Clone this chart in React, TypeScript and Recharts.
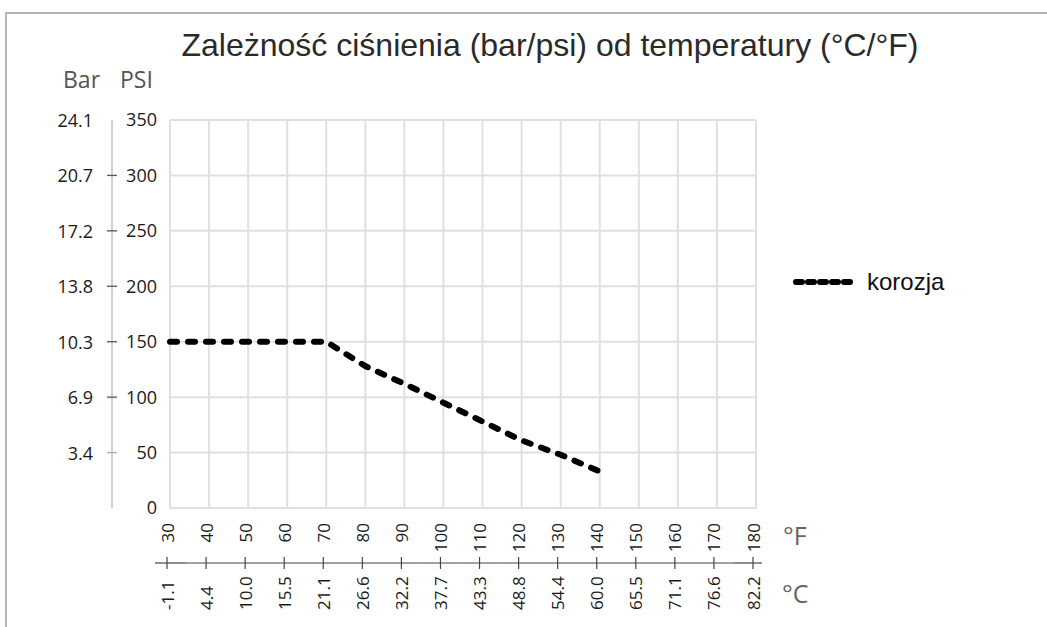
import React from 'react';
import { LineChart, Line, XAxis, YAxis, CartesianGrid, Legend } from 'recharts';

const titleText = 'Zależność ciśnienia (bar/psi) od temperatury (°C/°F)';
const fahrenheitTicks = [30, 40, 50, 60, 70, 80, 90, 100, 110, 120, 130, 140, 150, 160, 170, 180];
const celsiusLabels = ['-1.1', '4.4', '10.0', '15.5', '21.1', '26.6', '32.2', '37.7', '43.3', '48.8', '54.4', '60.0', '65.5', '71.1', '76.6', '82.2'];
const psiTicks = [0, 50, 100, 150, 200, 250, 300, 350];
const barLabels = ['', '3.4', '6.9', '10.3', '13.8', '17.2', '20.7', '24.1'];
const tempF = [30, 40, 50, 60, 70, 80, 90, 100, 110, 120, 130, 140];
const korozjaPsi = [150, 150, 150, 150, 150, 128, 112, 95, 78, 61, 48, 33];
const seriesName = 'korozja';

const data = tempF.map((f, i) => ({ f, korozja: korozjaPsi[i] }));

const W = 1040;
const H = 613;
const tickFont = "'Open Sans', 'DejaVu Sans', sans-serif";

const FTick = (props: any) => {
  const { x, y, payload } = props;
  const cx = x - 3;
  const ty = y + 15;
  return (
    <text
      x={cx}
      y={ty}
      transform={`rotate(-90, ${cx}, ${ty})`}
      textAnchor="end"
      dominantBaseline="central"
      fontSize={17}
      fontFamily={tickFont}
      fill="#1a1a1a"
    >
      {payload.value}
    </text>
  );
};

const CTick = (props: any) => {
  const { x, y, payload } = props;
  const cx = x - 3;
  const idx = fahrenheitTicks.indexOf(payload.value);
  const isFirst = idx === 0;
  const isLast = idx === fahrenheitTicks.length - 1;
  const left = isFirst ? cx - 12 : cx - 19.6;
  const right = isLast ? cx + 9 : cx + 19.6;
  const ly = y + 47;
  return (
    <g>
      <line x1={left} x2={right} y1={y} y2={y} stroke="#444" strokeWidth={1.2} />
      <line x1={cx} x2={cx} y1={y - 6} y2={y + 6} stroke="#444" strokeWidth={1.2} />
      <text
        x={cx}
        y={ly}
        transform={`rotate(-90, ${cx}, ${ly})`}
        textAnchor="start"
        dominantBaseline="central"
        fontSize={17}
        fontFamily={tickFont}
        fill="#1a1a1a"
      >
        {idx >= 0 ? celsiusLabels[idx] : ''}
      </text>
    </g>
  );
};

const BarTick = (props: any) => {
  const { x, y, payload } = props;
  const idx = psiTicks.indexOf(payload.value);
  const label = idx >= 0 ? barLabels[idx] : '';
  const showTick = payload.value > 0 && payload.value < 350;
  return (
    <g>
      {showTick && (
        <line
          x1={x - 5}
          x2={x + 5}
          y1={y}
          y2={y}
          stroke={payload.value === 50 ? '#aaa' : '#555'}
          strokeWidth={1.3}
        />
      )}
      <text
        x={x - 19}
        y={y}
        textAnchor="end"
        dominantBaseline="central"
        fontSize={18}
        fontFamily={tickFont}
        fill="#1a1a1a"
      >
        {label}
      </text>
    </g>
  );
};

const LegendContent = () => (
  <div style={{ display: 'flex', alignItems: 'center', height: 26 }}>
    <svg width={62} height={12}>
      <line
        x1={3}
        x2={59}
        y1={6}
        y2={6}
        stroke="#000"
        strokeWidth={6}
        strokeDasharray="6 6"
        strokeLinecap="round"
      />
    </svg>
    <span
      style={{
        marginLeft: 12,
        fontFamily: "'Liberation Sans', Arial, sans-serif",
        fontSize: 24,
        color: '#111',
        lineHeight: '26px',
      }}
    >
      {seriesName}
    </span>
  </div>
);

export default function App() {
  return (
    <div
      style={{
        position: 'absolute',
        left: 5,
        top: 12,
        width: 1042,
        height: 615,
        boxSizing: 'border-box',
        borderTop: '2px solid #b4b4b4',
        borderLeft: '2px solid #b4b4b4',
        background: '#fff',
        overflow: 'hidden',
      }}
    >
      <div style={{ position: 'relative', width: W, height: H }}>
        <LineChart
          width={W}
          height={H}
          data={data}
          margin={{ top: 106, right: 291, bottom: 0, left: 0 }}
        >
          <CartesianGrid xAxisId="a_f" yAxisId="a_psi" stroke="#e0e0e0" strokeWidth={2} />
          <XAxis
            xAxisId="a_f"
            dataKey="f"
            type="number"
            domain={[30, 180]}
            ticks={fahrenheitTicks}
            interval={0}
            height={55}
            axisLine={false}
            tickLine={false}
            tickSize={0}
            tickMargin={0}
            tick={<FTick />}
          />
          <XAxis
            xAxisId="b_c"
            dataKey="f"
            type="number"
            domain={[30, 180]}
            ticks={fahrenheitTicks}
            interval={0}
            height={64}
            axisLine={false}
            tickLine={false}
            tickSize={0}
            tickMargin={0}
            tick={<CTick />}
          />
          <YAxis
            yAxisId="a_psi"
            type="number"
            domain={[0, 350]}
            ticks={psiTicks}
            interval={0}
            width={58}
            axisLine={false}
            tickLine={false}
            tickSize={0}
            tickMargin={13}
            tick={{ fontSize: 18, fill: '#1a1a1a', fontFamily: tickFont }}
          />
          <YAxis
            yAxisId="b_bar"
            dataKey="korozja"
            type="number"
            domain={[0, 350]}
            ticks={psiTicks}
            interval={0}
            width={105}
            axisLine={{ stroke: '#d0d0d0', strokeWidth: 2 }}
            tickLine={false}
            tickSize={0}
            tickMargin={0}
            tick={<BarTick />}
          />
          <Legend
            layout="vertical"
            align="center"
            verticalAlign="middle"
            wrapperStyle={{ left: 786, top: 255, width: 220 }}
            content={() => <LegendContent />}
          />
          <Line
            xAxisId="a_f"
            yAxisId="a_psi"
            type="linear"
            dataKey="korozja"
            name={seriesName}
            stroke="#000"
            strokeWidth={6}
            strokeDasharray="7 11"
            strokeLinecap="round"
            dot={false}
            activeDot={false}
            isAnimationActive={false}
          />
        </LineChart>
        <svg
          width={W}
          height={H}
          style={{ position: 'absolute', left: 0, top: 0, pointerEvents: 'none' }}
        >
          <text
            x={543}
            y={42}
            textAnchor="middle"
            fontSize={32}
            fontFamily="'Liberation Sans', Arial, sans-serif"
            fill="#2a2a2a"
          >
            {titleText}
          </text>
          <text x={56} y={74} fontSize={23} fontFamily={tickFont} fill="#555">
            Bar
          </text>
          <text x={113} y={74} fontSize={23} fontFamily={tickFont} fill="#555">
            PSI
          </text>
          <text x={776} y={531} fontSize={25} fontFamily={tickFont} fill="#666">
            °F
          </text>
          <text x={775} y={589} fontSize={25} fontFamily={tickFont} fill="#666">
            °C
          </text>
        </svg>
      </div>
    </div>
  );
}
